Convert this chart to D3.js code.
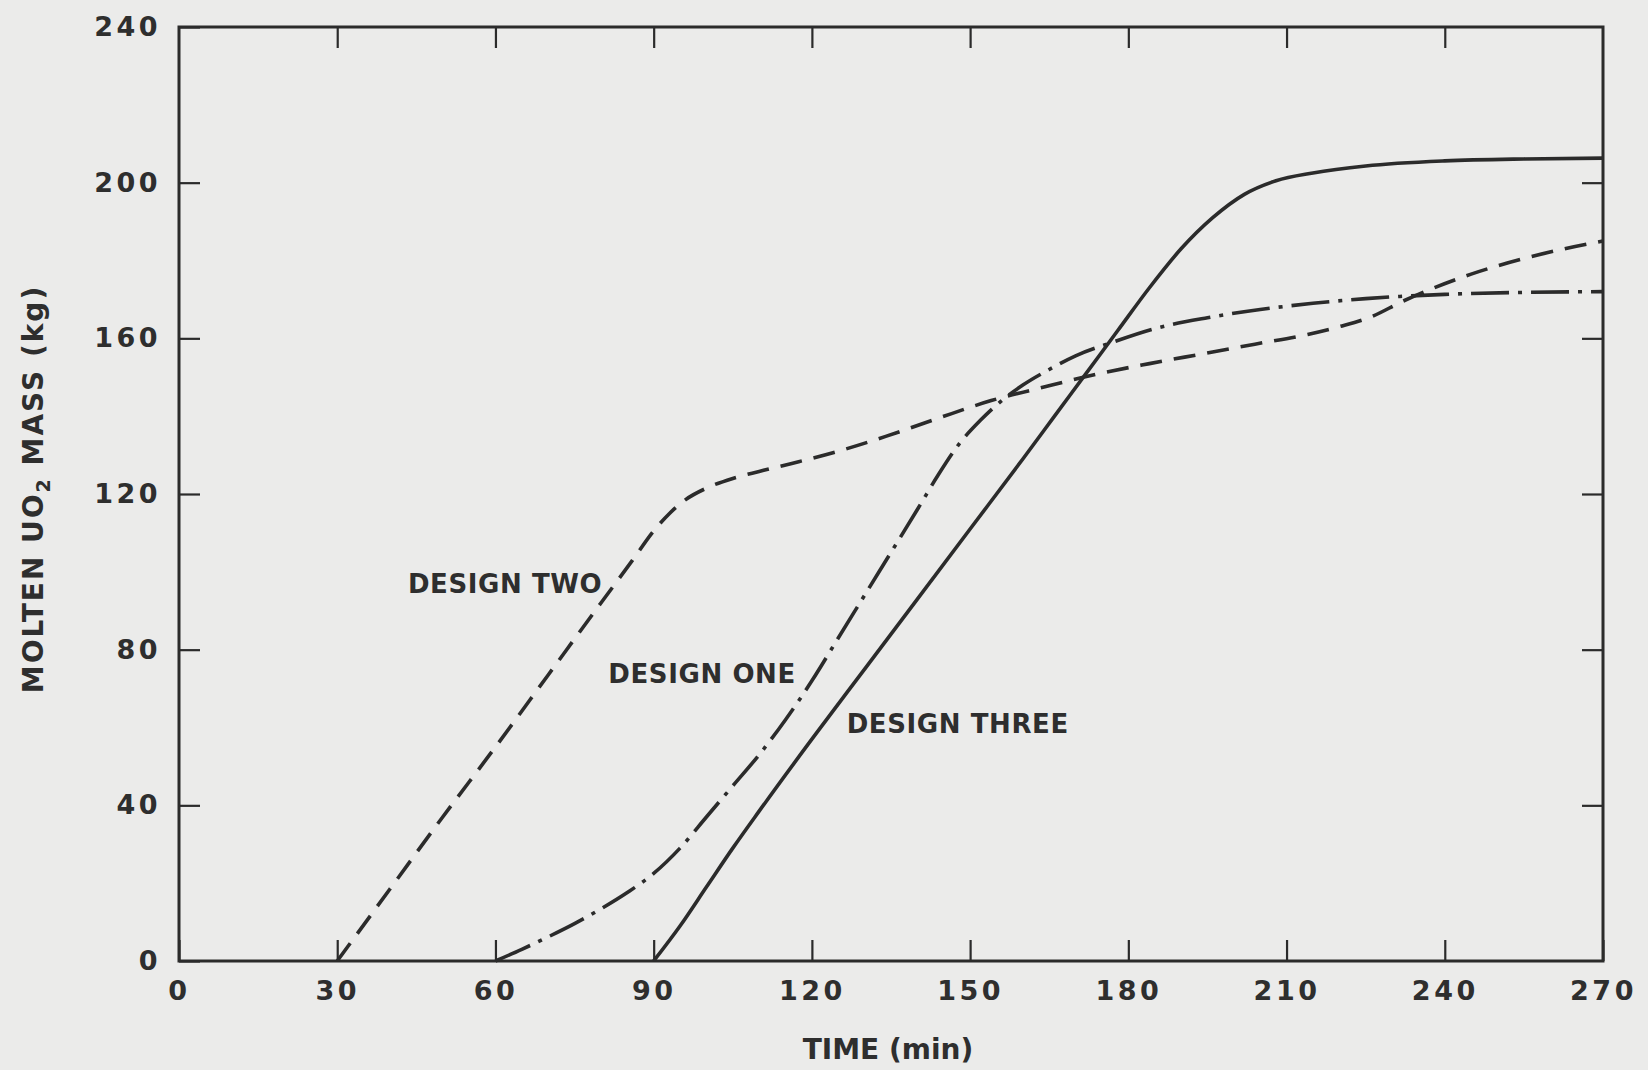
<!DOCTYPE html>
<html>
<head>
<meta charset="utf-8">
<script src="https://cdn.jsdelivr.net/npm/d3@7"></script>
<style>
  html, body { margin: 0; padding: 0; background: #ebebea; }
  svg { display: block; }
  text { font-family: "DejaVu Sans", "Liberation Sans", Arial, sans-serif; font-weight: bold; fill: #2e2e2e; }
</style>
</head>
<body>
<svg id="chart" width="1648" height="1070"></svg>
<script>
// Molten UO2 mass versus time for three designs
const timeTicks = [0, 30, 60, 90, 120, 150, 180, 210, 240, 270];
const massTicks = [0, 40, 80, 120, 160, 200, 240];

// [time (min), molten mass (kg)]
const designOne = [
  [60, 0], [65, 3], [70, 6.2], [75, 9.6], [80, 13.4], [85, 17.6], [90, 22.5],
  [95, 29], [100, 37], [105, 45], [110, 53], [115, 62], [120, 72], [125, 83],
  [130, 94], [135, 105], [140, 116], [144, 125], [148, 133], [152, 139],
  [156, 144], [160, 148], [165, 152], [170, 155.5], [177, 159], [185, 162.5],
  [195, 165.3], [205, 167.4], [215, 169], [225, 170.2], [240, 171.3],
  [255, 171.8], [270, 172]
];
const designTwo = [
  [30, 0], [40, 18.5], [50, 37], [60, 55], [70, 73.5], [80, 92], [86, 103],
  [90, 110.5], [93, 115], [96, 118.5], [100, 121.5], [105, 124], [110, 125.8],
  [116, 127.8], [124, 130.6], [134, 134.8], [144, 139.5], [154, 144],
  [164, 147.5], [174, 150.8], [184, 153.5], [194, 156], [204, 158.5],
  [214, 161], [220, 163], [226, 165.5], [232, 169.5], [238, 173],
  [245, 176.5], [255, 180.5], [262, 182.8], [270, 185]
];
const designThree = [
  [90, 0], [95, 9], [100, 19], [105, 29], [110, 38.5], [120, 57], [130, 75],
  [140, 93], [150, 111], [160, 129], [166, 140], [172, 151], [178, 162],
  [184, 173], [190, 183], [196, 191], [202, 197], [208, 200.5], [215, 202.5],
  [225, 204.3], [240, 205.6], [255, 206.1], [270, 206.3]
];

const seriesNames = ["DESIGN ONE", "DESIGN TWO", "DESIGN THREE"];

const svg = d3.select("#chart");
const plot = { left: 179, right: 1603, top: 27, bottom: 961 };
const ink = "#2b2b2b";

const x = d3.scaleLinear().domain([0, 270]).range([plot.left, plot.right]);
const y = d3.scaleLinear().domain([0, 240]).range([plot.bottom, plot.top]);

// paper background
svg.append("rect").attr("width", 1648).attr("height", 1070).attr("fill", "#ebebea");

const tickLen = 21;
function styleAxis(g) {
  g.select(".domain").remove();
  g.selectAll(".tick line").attr("stroke", ink).attr("stroke-width", 2.2);
  g.selectAll(".tick text")
    .attr("font-size", 27)
    .attr("letter-spacing", 3.5)
    .attr("fill", "#2e2e2e")
    .attr("font-family", "DejaVu Sans, Liberation Sans, Arial, sans-serif")
    .attr("font-weight", "bold");
}

// bottom: inward ticks with labels
svg.append("g")
  .attr("transform", `translate(0,${plot.bottom})`)
  .call(d3.axisBottom(x).tickValues(timeTicks).tickSizeInner(-tickLen).tickSizeOuter(0).tickPadding(20))
  .call(styleAxis);

// left: inward ticks with labels
svg.append("g")
  .attr("transform", `translate(${plot.left},0)`)
  .call(d3.axisLeft(y).tickValues(massTicks).tickSizeInner(-tickLen).tickSizeOuter(0).tickPadding(18))
  .call(styleAxis);

// top and right: inward ticks only
svg.append("g")
  .attr("transform", `translate(0,${plot.top})`)
  .call(d3.axisTop(x).tickValues(timeTicks.slice(1, -1)).tickSizeInner(-tickLen).tickSizeOuter(0).tickFormat(""))
  .call(styleAxis);
svg.append("g")
  .attr("transform", `translate(${plot.right},0)`)
  .call(d3.axisRight(y).tickValues(massTicks.slice(1, -1)).tickSizeInner(-tickLen).tickSizeOuter(0).tickFormat(""))
  .call(styleAxis);

// frame
svg.append("rect")
  .attr("x", plot.left).attr("y", plot.top)
  .attr("width", plot.right - plot.left).attr("height", plot.bottom - plot.top)
  .attr("fill", "none").attr("stroke", ink).attr("stroke-width", 3);

// curves
const line = d3.line()
  .x(d => x(d[0]))
  .y(d => y(d[1]))
  .curve(d3.curveMonotoneX);

const curves = [
  { data: designOne, dash: "38,9,4,9" },
  { data: designTwo, dash: "22,12" },
  { data: designThree, dash: null }
];

svg.append("g").selectAll("path")
  .data(curves)
  .join("path")
  .attr("d", d => line(d.data))
  .attr("fill", "none")
  .attr("stroke", ink)
  .attr("stroke-width", 3.6)
  .attr("stroke-dasharray", d => d.dash)
  .attr("stroke-linecap", "butt");

// curve labels
const labelPos = [
  { name: seriesNames[1], t: 43.4, v: 94.5 },
  { name: seriesNames[0], t: 81.4, v: 71.4 },
  { name: seriesNames[2], t: 126.6, v: 58.5 }
];
svg.append("g").selectAll("text")
  .data(labelPos)
  .join("text")
  .attr("x", d => x(d.t))
  .attr("y", d => y(d.v))
  .attr("font-size", 26)
  .attr("letter-spacing", 0.6)
  .text(d => d.name);

// axis titles
svg.append("text")
  .attr("x", 888).attr("y", 1059)
  .attr("text-anchor", "middle")
  .attr("font-size", 28)
  .text("TIME (min)");

const yTitle = svg.append("text")
  .attr("transform", "translate(43,489) rotate(-90)")
  .attr("text-anchor", "middle")
  .attr("font-size", 28)
  .attr("letter-spacing", 2);
yTitle.append("tspan").text("MOLTEN UO");
yTitle.append("tspan").attr("font-size", 19).attr("dy", 7).text("2");
yTitle.append("tspan").attr("dy", -7).text(" MASS (kg)");
</script>
</body>
</html>
